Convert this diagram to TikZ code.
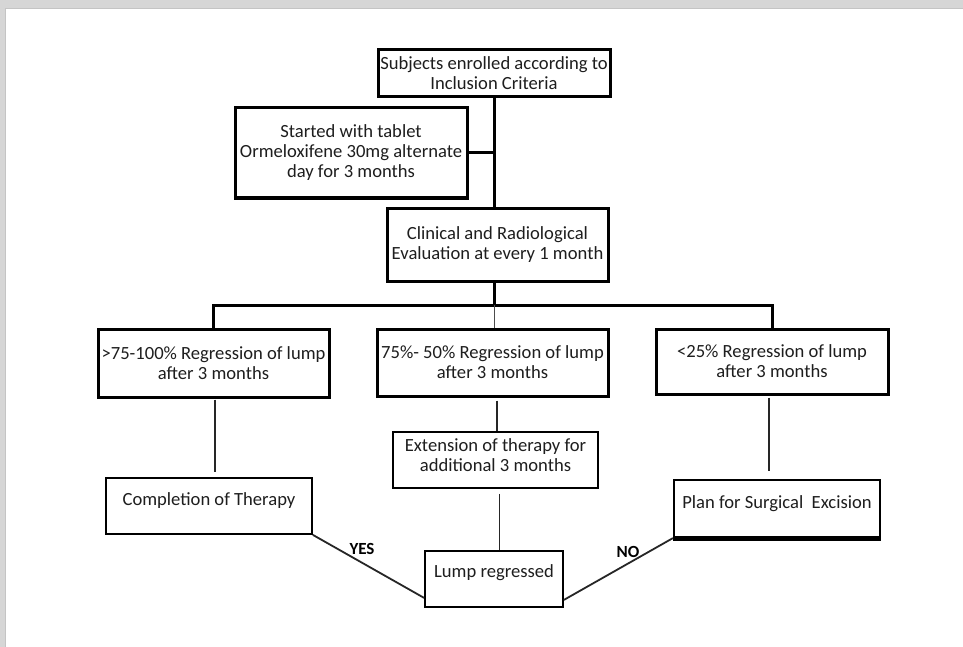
\documentclass[tikz,border=0pt]{standalone}
\usepackage{fontspec}
\setmainfont{Carlito}
\usetikzlibrary{calc}
\definecolor{frame}{HTML}{D6D6D6}
\definecolor{frameedge}{HTML}{C4C4C4}
\definecolor{txt}{HTML}{1E1E1E}
\begin{document}
\begin{tikzpicture}[x=1pt,y=-1pt,
  box/.style={draw=black, rectangle, inner sep=0pt, align=center,
    font=\fontsize{18.6}{20}\selectfont, text=txt},
  thickbox/.style={box, line width=3pt},
  thinbox/.style={box, line width=1.8pt},
  lbl/.style={align=center, font=\fontsize{18.6}{20}\selectfont, text=txt},
  heavy/.style={draw=black, line width=3pt},
  conn/.style={draw=black!85, line width=1.8pt},
  hair/.style={draw=black!70, line width=1pt},
  yn/.style={font=\bfseries\fontsize{17}{18}\selectfont, text=black}]
\useasboundingbox (0,0) rectangle (963,647);
\fill[frame] (0,0) rectangle (963,647);
\fill[white] (5,8) rectangle (963,647);
\draw[frameedge, line width=1pt] (5.5,647) -- (5.5,8.5) -- (963,8.5);

% boxes
\node[thickbox, minimum width=232pt, minimum height=47pt] (top) at (494,73.5)
  {Subjects enrolled according to\\Inclusion Criteria};
\node[thickbox, minimum width=232pt, minimum height=90pt] (start) at (351,153)
  {Started with tablet\\Ormeloxifene 30mg alternate\\day for 3 months};
\node[thickbox, minimum width=221pt, minimum height=73pt] (clin) at (497.5,244.5)
  {Clinical and Radiological\\Evaluation at every 1 month};
\node[thickbox, minimum width=231pt, minimum height=68pt] (left) at (213.5,363)
  {>75-100\% Regression of lump\\after 3 months};
\node[thickbox, minimum width=231pt, minimum height=67pt] (mid) at (492.5,362.5)
  {75\%- 50\% Regression of lump\\after 3 months};
\node[thickbox, minimum width=232pt, minimum height=65pt] (right) at (772,361.5)
  {<25\% Regression of lump\\after 3 months};
\node[thinbox, minimum width=206pt, minimum height=56pt,
  label={[lbl, yshift=5pt]center:Completion of Therapy}] (comp) at (209,506) {};
\node[thinbox, minimum width=205pt, minimum height=56pt,
  label={[lbl, yshift=5pt]center:Extension of therapy for\\additional 3 months}] (ext) at (495.5,460) {};
\node[box, line width=2.2pt, minimum width=206pt, minimum height=57pt,
  label={[lbl, yshift=5pt]center:Plan for Surgical\ \ Excision}] (plan) at (777,508.5) {};
\node[thinbox, minimum width=138pt, minimum height=56pt,
  label={[lbl, yshift=6pt]center:Lump regressed}] (lump) at (494,579) {};
\draw[line width=3.6pt] ([yshift=-0.8pt]plan.south west) -- ([yshift=-0.8pt]plan.south east);

% upper connectors
\coordinate (busC) at (494,305);
\draw[heavy] (top.south) -- (top.south |- clin.north);
\draw[heavy] (start.east) -- (start.east -| top.south);
\draw[heavy] (busC |- clin.south) -- (busC);
\draw[heavy] (left.north) -- (left.north |- busC) -- (right.north |- busC) -- (right.north);
\draw[hair] (busC) -- (busC |- mid.north);

% lower connectors
\draw[conn, shorten <=1pt, shorten >=5pt] ([xshift=1.5pt]left.south) -- ([xshift=1.5pt]left.south |- comp.north);
\draw[conn, shorten <=3pt] (ext.north) ++(1.5pt,0pt) coordinate (extn) (extn |- mid.south) -- (extn);
\draw[conn, shorten <=2pt, shorten >=8pt] ([xshift=-3pt]right.south) -- ([xshift=-3pt]right.south |- plan.north);
\draw[conn, shorten <=5pt] ([xshift=4pt]ext.south) -- ([xshift=4pt]ext.south |- lump.north);
\draw[conn] (comp.south east) -- ([yshift=10pt]lump.south west);
\draw[conn] (plan.south west) -- ([yshift=8pt]lump.south east);

% edge labels
\node[yn] (yes) at (362,549) {YES};
\node[yn] (no) at (628,552) {NO};
\end{tikzpicture}
\end{document}
